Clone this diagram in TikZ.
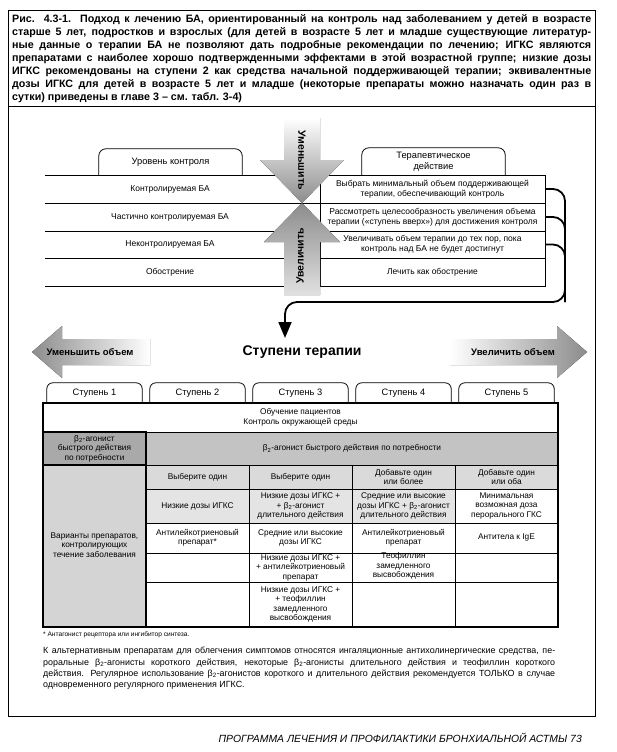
\documentclass[tikz,border=0pt]{standalone}
\usepackage{fontspec}
\setmainfont{Liberation Sans}
\usetikzlibrary{arrows.meta}
\definecolor{gA}{HTML}{A9A9A9}
\definecolor{gB}{HTML}{C3C3C3}
\definecolor{gC}{HTML}{D4D4D4}
\definecolor{gD}{HTML}{DADADA}
\definecolor{gE}{HTML}{E4E4E4}
\newcommand{\btwo}{β\textsubscript{2}}
\begin{document}
\begin{tikzpicture}[x=1pt,y=-1pt,
  rowtxt/.style={font=\fontsize{8.5}{10}\selectfont, align=center, inner sep=0pt},
  celltxt/.style={font=\fontsize{8.3}{9.5}\selectfont, align=center, inner sep=0pt},
  tabtxt/.style={font=\fontsize{9.3}{11.5}\selectfont, align=center, inner sep=0pt},
  taboutline/.style={line width=0.8pt, rounded corners=7pt},
  tl/.style={line width=0.7pt},
  bl/.style={line width=1.4pt},
  conn/.style={line width=1.8pt, rounded corners=12pt},
  vtxt/.style={font=\bfseries\fontsize{10.5}{12}\selectfont, inner sep=0pt},
  htxt/.style={font=\bfseries\fontsize{9.5}{11}\selectfont, inner sep=0pt}
  ]
\useasboundingbox (0,0) rectangle (617,752);
\fill[white] (0,0) rectangle (617,752);

% frames
\draw[line width=0.9pt] (8,10) rectangle (595,106);
\draw[line width=0.9pt] (8,106) rectangle (595,716);

% header text
\node[anchor=north west, inner sep=0pt, font=\bfseries\fontsize{10.7}{13}\selectfont, align=left] (hdr) at (12,14) {%
\makebox[579pt][s]{Рис. 4.3-1. Подход к лечению БА, ориентированный на контроль над заболеванием у детей в возрасте}\\
\makebox[579pt][s]{старше 5 лет, подростков и взрослых (для детей в возрасте 5 лет и младше существующие литератур-}\\
\makebox[579pt][s]{ные данные о терапии БА не позволяют дать подробные рекомендации по лечению; ИГКС являются}\\
\makebox[579pt][s]{препаратами с наиболее хорошо подтвержденными эффектами в этой возрастной группе; низкие дозы}\\
\makebox[579pt][s]{ИГКС рекомендованы на ступени 2 как средства начальной поддерживающей терапии; эквивалентные}\\
\makebox[579pt][s]{дозы ИГКС для детей в возрасте 5 лет и младше (некоторые препараты можно назначать один раз в}\\
сутки) приведены в главе 3 – см. табл. 3-4)};

% ---------- control level table ----------
\node[tabtxt, minimum width=143pt, minimum height=26pt] (lvl) at (170.5,162) {Уровень контроля};
\draw[taboutline] (lvl.south west) -- (lvl.north west) -- (lvl.north east) -- (lvl.south east);
\node[tabtxt, minimum width=143pt, minimum height=27pt] (ther) at (433.5,161.5) {Терапевтическое\\действие};
\draw[taboutline] (ther.south west) -- (ther.north west) -- (ther.north east) -- (ther.south east);

\foreach \yy in {175,203,231,258,286} \draw[tl] (45,\yy) -- (320,\yy);

\node[rowtxt] (l1) at (170,189) {Контролируемая БА};
\node[rowtxt] (l2) at (170,217) {Частично контролируемая БА};
\node[rowtxt] (l3) at (170,244.5) {Неконтролируемая БА};
\node[rowtxt] (l4) at (170,272) {Обострение};

\node[rowtxt, draw, tl, minimum width=225pt, minimum height=28pt] (r1) at (432.5,189) {Выбрать минимальный объем поддерживающей\\терапии, обеспечивающий контроль};
\node[rowtxt, draw, tl, minimum width=225pt, minimum height=28pt] (r2) at (432.5,217) {Рассмотреть целесообразность увеличения объема\\терапии («ступень вверх») для достижения контроля};
\node[rowtxt, draw, tl, minimum width=225pt, minimum height=27pt] (r3) at (432.5,244.5) {Увеличивать объем терапии до тех пор, пока\\контроль над БА не будет достигнут};
\node[rowtxt, draw, tl, minimum width=225pt, minimum height=28pt] (r4) at (432.5,272) {Лечить как обострение};

% vertical arrows
\fill[top color=white, bottom color=black!45] (284,118) -- (320,118) -- (320,160) -- (344,160) -- (302,203) -- (260,160) -- (284,160) -- cycle;
\fill[top color=black!45, bottom color=black!12] (302,203) -- (340,242) -- (320,242) -- (320,295) -- (284,295) -- (284,242) -- (264,242) -- cycle;
\node[vtxt, rotate=-90] (dn) at (302,160) {Уменьшить};
\node[vtxt, rotate=90] (up) at (300,256) {Увеличить};

% connectors
\coordinate (cR) at (565,302);
\coordinate (cL) at (285,302);
\coordinate (cT) at (285,338);
\draw[conn] (r1.east) -| (cR);
\draw[conn] (r2.east) -| (cR);
\draw[conn, -{Triangle[length=16pt,width=13pt]}] (r3.east) -| (cR) -- (cL) -- (cT);

% ---------- steps title & big arrows ----------
\fill[left color=black!45, right color=white] (32,352) -- (62,326) -- (62,339) -- (150,339) -- (150,365) -- (62,365) -- (62,378) -- cycle;
\fill[left color=white, right color=black!45] (450,339) -- (557,339) -- (557,326) -- (587,352) -- (557,378) -- (557,365) -- (450,365) -- cycle;
\node[htxt] (dec) at (90,352) {Уменьшить объем};
\node[htxt] (inc) at (513,352) {Увеличить объем};
\node[font=\bfseries\fontsize{14}{16}\selectfont, inner sep=0pt] (title) at (302,352) {Ступени терапии};

% ---------- steps table ----------
\foreach \i/\cx in {1/94.5,2/197.5,3/300.5,4/403.5,5/506.5}{
  \node[tabtxt, minimum width=95pt, minimum height=20pt] (st\i) at (\cx,393) {Ступень \i};
  \draw[taboutline, rounded corners=6pt] (st\i.south west) -- (st\i.north west) -- (st\i.north east) -- (st\i.south east);
}

\fill[gA] (43,432) rectangle (146,465);
\fill[gB] (146,432) rectangle (558,465);
\fill[gC] (43,465) rectangle (146,627);
\fill[gD] (146,465) rectangle (558,489);
\fill[gE] (146,489) rectangle (455,523);

\draw[tl] (43,432) -- (558,432);
\draw[tl] (43,465) -- (558,465);
\foreach \yy in {489,523,553,582} \draw[tl] (146,\yy) -- (558,\yy);
\foreach \xx in {249,352,455} \draw[tl] (\xx,465) -- (\xx,627);
\draw[bl] (43,432) rectangle (146,465);
\draw[bl] (43,465) rectangle (146,627);
\draw[line width=1.2pt] (43,403) rectangle (558,627);

\node[celltxt] (ed) at (300.5,417.5) {Обучение пациентов\\Контроль окружающей среды};
\node[celltxt] (ba1) at (94.5,448.5) {\btwo-агонист\\быстрого действия\\по потребности};
\node[celltxt] (ba2) at (352,448.5) {\btwo-агонист быстрого действия по потребности};
\node[celltxt] (var) at (94.5,545) {Варианты препаратов,\\контролирующих\\течение заболевания};

\node[celltxt] (h2) at (197.5,477) {Выберите один};
\node[celltxt] (h3) at (300.5,477) {Выберите один};
\node[celltxt] (h4) at (403.5,477) {Добавьте один\\или более};
\node[celltxt] (h5) at (506.5,477) {Добавьте один\\или оба};

\node[celltxt] (a2) at (197.5,506) {Низкие дозы ИГКС};
\node[celltxt] (a3) at (300.5,506) {Низкие дозы ИГКС +\\+ \btwo-агонист\\длительного действия};
\node[celltxt] (a4) at (403.5,506) {Средние или высокие\\дозы ИГКС + \btwo-агонист\\длительного действия};
\node[celltxt] (a5) at (506.5,506) {Минимальная\\возможная доза\\перорального ГКС};

\node[celltxt] (b2) at (197.5,538) {Антилейкотриеновый\\препарат*};
\node[celltxt] (b3) at (300.5,538) {Средние или высокие\\дозы ИГКС};
\node[celltxt] (b4) at (403.5,538) {Антилейкотриеновый\\препарат};
\node[celltxt] (b5) at (506.5,538) {Антитела к IgE};

\node[celltxt] (c3) at (300.5,567.5) {Низкие дозы ИГКС +\\+ антилейкотриеновый\\препарат};
\node[celltxt] (c4) at (403.5,566) {Теофиллин\\замедленного\\высвобождения};

\node[celltxt] (d3) at (300.5,604.5) {Низкие дозы ИГКС +\\+ теофиллин\\замедленного\\высвобождения};

% ---------- notes ----------
\node[anchor=west, inner sep=0pt, font=\fontsize{6.6}{8}\selectfont] (fn) at (43,635) {* Антагонист рецептора или ингибитор синтеза.};
\node[anchor=north west, inner sep=0pt, font=\fontsize{8.9}{11.3}\selectfont, align=left] (para) at (43,647) {%
\makebox[512pt][s]{К альтернативным препаратам для облегчения симптомов относятся ингаляционные антихолинергические средства, пе-}\\
\makebox[512pt][s]{роральные \btwo-агонисты короткого действия, некоторые \btwo-агонисты длительного действия и теофиллин короткого}\\
\makebox[512pt][s]{действия. Регулярное использование \btwo-агонистов короткого и длительного действия рекомендуется ТОЛЬКО в случае}\\
одновременного регулярного применения ИГКС.};

\node[anchor=east, inner sep=0pt, font=\itshape\fontsize{10.4}{12}\selectfont] (ftr) at (582,738) {ПРОГРАММА ЛЕЧЕНИЯ И ПРОФИЛАКТИКИ БРОНХИАЛЬНОЙ АСТМЫ 73};
\end{tikzpicture}
\end{document}
